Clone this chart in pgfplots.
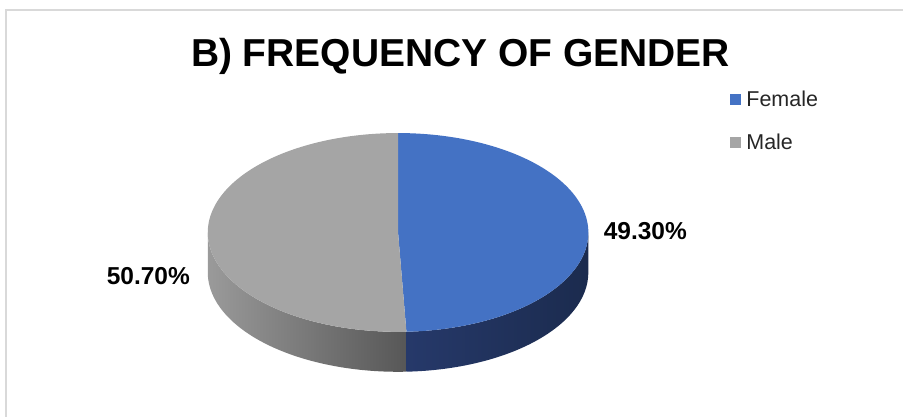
\documentclass[border=0pt]{standalone}
\usepackage{pgfplots}
\pgfplotsset{compat=1.18}
\usepackage{fontspec}
\setmainfont{Liberation Sans}
\definecolor{pieblue}{HTML}{4472C4}
\definecolor{piegray}{HTML}{A5A5A5}
\definecolor{bluesideL}{HTML}{26396A}
\definecolor{bluesideR}{HTML}{1B2B4E}
\definecolor{graysideL}{HTML}{9A9A9A}
\definecolor{graysideR}{HTML}{575757}
\definecolor{framegray}{HTML}{D9D9D9}
\definecolor{legtext}{HTML}{262626}
\begin{document}
\begin{tikzpicture}
% data (percent)
\pgfmathsetmacro{\female}{49.3}
\pgfmathsetmacro{\male}{50.7}
% geometry (pt = px)
\def\cx{398.5}\def\cy{184.3}\def\ra{190.5}\def\rb{99.5}\def\dep{40}
\pgfmathsetmacro{\angF}{90-\female*3.6}
\pgfmathsetmacro{\angM}{90+\male*3.6}
\begin{axis}[scale only axis, width=904pt, height=417pt,
  xmin=0, xmax=904, ymin=0, ymax=417, hide axis, clip=false,
  legend image code/.code={\fill[#1] (0pt,-5.5pt) rectangle (11pt,5.5pt);},
  legend style={at={(axis cs:731,296)}, anchor=west, draw=none, fill=none,
    inner sep=0pt, row sep=26pt, column sep=5pt,
    font=\fontsize{21.5}{21.5}\selectfont\color{legtext},
    nodes={inner sep=0pt}},
  legend cell align=left]
% bounding box = whole chart area
\path (rel axis cs:0,0) rectangle (rel axis cs:1,1);
% frame
\draw[framegray, line width=2pt] (axis cs:6,0) -- (axis cs:6,407) -- (axis cs:904,407);
% side faces
\addplot[draw=none, left color=graysideL, right color=graysideR,
  domain=180:\angM, samples=90, variable=\t, forget plot]
  ({\cx+\ra*cos(t)}, {\cy+\rb*sin(t)})
  -- ++(0pt,-\dep pt) arc[start angle=\angM, end angle=180, x radius=\ra pt, y radius=\rb pt] -- cycle;
\addplot[draw=none, left color=bluesideL, right color=bluesideR,
  domain=\angF:0, samples=90, variable=\t, forget plot]
  ({\cx+\ra*cos(t)}, {\cy+\rb*sin(t)})
  -- ++(0pt,-\dep pt) arc[start angle=0, end angle=\angF, x radius=\ra pt, y radius=\rb pt] -- cycle;
% top faces
\addplot[draw=none, fill=pieblue, domain=\angF:90, samples=150, variable=\t, forget plot]
  ({\cx+\ra*cos(t)}, {\cy+\rb*sin(t)}) -- (axis cs:\cx,\cy) -- cycle;
\addplot[draw=none, fill=piegray, domain=90:\angM, samples=150, variable=\t, forget plot]
  ({\cx+\ra*cos(t)}, {\cy+\rb*sin(t)}) -- (axis cs:\cx,\cy) -- cycle;
% legend
\addlegendimage{fill=pieblue, draw=none}
\addlegendentry{Female}
\addlegendimage{fill=piegray, draw=none}
\addlegendentry{Male}
% texts
\node[anchor=base, font=\fontsize{39}{39}\selectfont\bfseries] at (axis cs:461,350.3) {B) FREQUENCY OF GENDER};
\node[anchor=base, font=\fontsize{24.5}{24.5}\selectfont\bfseries] at (axis cs:646,177) {49.30\%};
\node[anchor=base, font=\fontsize{24.5}{24.5}\selectfont\bfseries] at (axis cs:148.5,132) {50.70\%};
\end{axis}
\end{tikzpicture}
\end{document}
